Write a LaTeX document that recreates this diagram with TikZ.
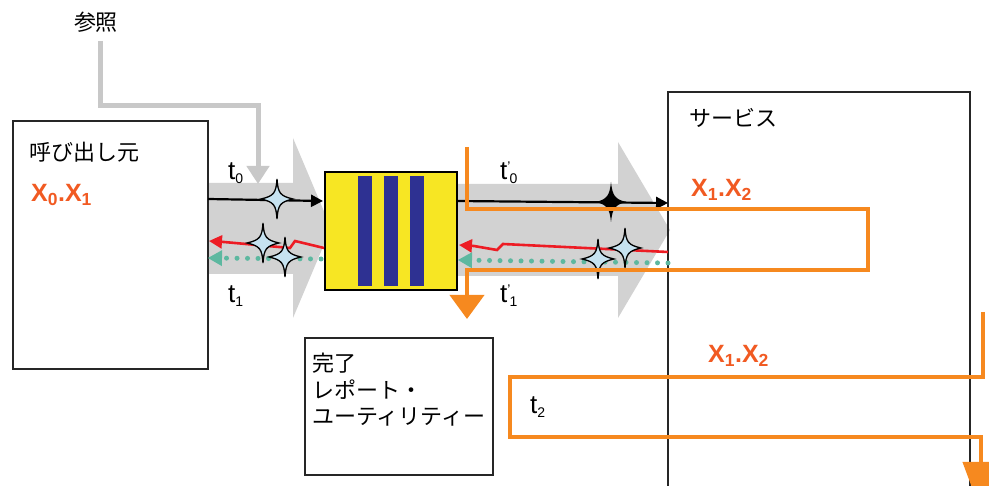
\documentclass[tikz,border=0pt]{standalone}
\usepackage{fontspec}
\setmainfont{Liberation Sans}
\newfontfamily\cjk{Noto Sans CJK JP}
\usetikzlibrary{arrows.meta}
\definecolor{bandgray}{HTML}{D2D2D2}
\definecolor{refgray}{HTML}{C8C8C8}
\definecolor{qyellow}{HTML}{F7E623}
\definecolor{qblue}{HTML}{2E3192}
\definecolor{xorange}{HTML}{F15A22}
\definecolor{lineorange}{HTML}{F6891F}
\definecolor{qred}{HTML}{ED1C24}
\definecolor{qteal}{HTML}{5DB8A0}
\definecolor{starblue}{HTML}{C6E2F0}
\newcommand{\tsub}[1]{\raisebox{-4pt}{\fontsize{14}{14}\selectfont #1}}
\newcommand{\tprime}{\raisebox{8pt}{\fontsize{14}{14}\selectfont '}\kern-1pt}
\begin{document}
\begin{tikzpicture}[x=1pt,y=-1pt,
  box/.style={draw=black!85,line width=1.1pt,minimum width=#1,inner sep=0pt},
  cjklabel/.style={font=\cjk\fontsize{22}{28}\selectfont,inner sep=0pt},
  tlabel/.style={font=\fontsize{26}{28}\selectfont,inner sep=0pt,anchor=base west},
  xlabel/.style={font=\bfseries\fontsize{25}{27}\selectfont,text=xorange,inner sep=0pt,anchor=base west},
  blackarrow/.style={line width=2.2pt,-{Triangle[length=12pt,width=12pt]}},
  redarrow/.style={draw=qred,line width=2.6pt,-{Triangle[length=13pt,width=13pt]}},
  tealarrow/.style={draw=qteal,line width=5pt,line cap=round,dash pattern=on 0pt off 10.5pt,
     -{Triangle[length=14pt,width=16pt,line width=0pt]}},
  orangepath/.style={draw=lineorange,line width=4pt},
  orangetip/.style={-{Triangle[length=24pt,width=34pt]}},
  star4/.pic={\draw[fill=starblue,line width=1.3pt,line join=miter]
     (0,-20) .. controls (1,-6) and (3,-3) .. (16,0) .. controls (3,3) and (1,6) .. (0,20)
     .. controls (-1,6) and (-3,3) .. (-16,0) .. controls (-3,-3) and (-1,-6) .. cycle;},
  blackstar4/.pic={\fill[black]
     (0,-20) .. controls (1.5,-6) and (4,-3) .. (15,0) .. controls (4,3) and (1.5,6) .. (0,20)
     .. controls (-1.5,6) and (-4,3) .. (-15,0) .. controls (-4,-3) and (-1.5,-6) .. cycle;}
]
\useasboundingbox (0,0) rectangle (989,486);
\clip (0,0) rectangle (989,486);

% gray bands
\fill[bandgray] (208,183) -- (293,183) -- (293,138) -- (331,228) -- (293,318) -- (293,274) -- (208,274) -- cycle;
\fill[bandgray] (457,184) -- (618,184) -- (618,142) -- (670,230) -- (618,318) -- (618,276) -- (457,276) -- cycle;

% boxes
\node[box=195pt,minimum height=248pt] (caller) at (110.5,245) {};
\node[box=188pt,minimum height=137pt] (done) at (399,406.5) {};
\node[box=302pt,minimum height=408pt] (service) at (819,296) {};

% reference line
\node[cjklabel] (reflbl) at (96,22) {参照};
\coordinate (r0) at (100,41);
\coordinate (r1) at (258,184);
\draw[refgray,line width=5pt,-{Triangle[length=18pt,width=22pt]}] (r0) -- (100,106) -- (258,106) -- (r1);

% queue
\node[draw=black,line width=1.3pt,fill=qyellow,minimum width=132pt,minimum height=118pt,inner sep=0pt] (queue) at (391,231) {};
\foreach \bx/\nm in {365/b1,391/b2,417/b3}
  \node[fill=qblue,minimum width=14pt,minimum height=110pt,inner sep=0pt] (\nm) at (\bx,231) {};

% labels
\node[cjklabel,anchor=west] (callerlbl) at (29,152) {呼び出し元};
\node[cjklabel,anchor=west] (servicelbl) at (689,118) {サービス};
\node[cjklabel,anchor=north west,align=left,font=\cjk\fontsize{22}{26.5}\selectfont] (donelbl) at (312,353) {完了\\レポート・\\ユーティリティー};
\node[xlabel] (x01) at (31,202) {X\textsubscript{0}.X\textsubscript{1}};
\node[xlabel] (x12a) at (691,197) {X\textsubscript{1}.X\textsubscript{2}};
\node[xlabel] (x12b) at (708,363) {X\textsubscript{1}.X\textsubscript{2}};
\node[tlabel] (t0) at (228,180) {t\tsub{0}};
\node[tlabel] (t1) at (228,303) {t\tsub{1}};
\node[tlabel] (tp0) at (500,180) {t\tprime\tsub{0}};
\node[tlabel] (tp1) at (500,303) {t\tprime\tsub{1}};
\node[tlabel] (t2) at (530,414) {t\tsub{2}};

% request arrows
\coordinate (a0) at (208,199);
\coordinate (a1) at (323,201);
\draw[blackarrow] (a0) -- (a1);
\coordinate (a2) at (457,201);
\coordinate (a3) at (668,203);
\draw[blackarrow] (a2) -- (a3);

% red reply arrows (lightning)
\coordinate (rl0) at (324,248);
\coordinate (rl1) at (209,241);
\draw[redarrow] (rl0) -- (295,241) -- (290,248) -- (224,242) -- (rl1);
\coordinate (rr0) at (668,252);
\coordinate (rr1) at (459,245);
\draw[redarrow] (rr0) -- (503,244) -- (497,250) -- (474,246) -- (rr1);

% teal dotted arrows
\coordinate (tl0) at (321,259);
\coordinate (tl1) at (208,258);
\draw[tealarrow] (tl0) -- (tl1);
\coordinate (tr0) at (668,263);
\coordinate (tr1) at (458,260);
\draw[tealarrow] (tr0) -- (tr1);

% stars
\pic at (277,199) {star4};
\pic at (263,243) {star4};
\pic at (285,257) {star4};
\pic at (611,202) {blackstar4};
\pic at (598,259) {star4};
\pic at (625,248) {star4};

% orange paths
\coordinate (o0) at (467,147);
\coordinate (o1) at (467,319);
\draw[orangepath,orangetip] (o0) -- (467,209) -- (868,209) -- (868,270) -- (467,270) -- (o1);
\coordinate (o2) at (983,312);
\coordinate (o3) at (981,512);
\draw[orangepath,-{Triangle[length=50pt,width=36pt]}] (o2) -- (983,377) -- (510,377) -- (510,437) -- (981,437) -- (o3);
\end{tikzpicture}
\end{document}
